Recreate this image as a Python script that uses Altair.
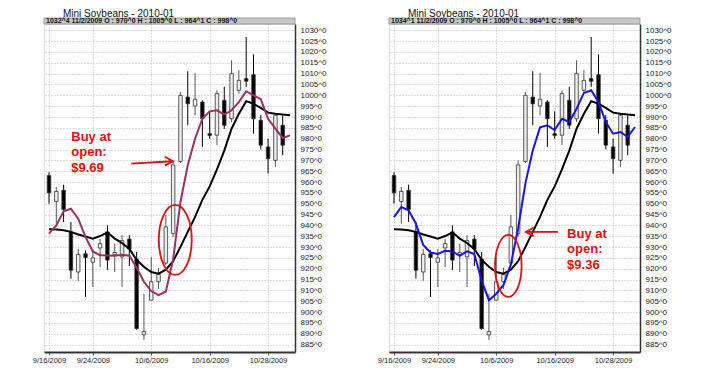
import json
import altair as alt
import pandas as pd

# ---------------- data ----------------
bar_index = list(range(33))
opens = [963.0, 951.0, 956.2, 937.0, 918.5, 926.9, 923.0, 929.6, 937.0, 926.5, 925.5, 933.7, 924.5,
         889.5, 905.5, 914.0, 922.6, 936.2, 969.5, 999.2, 995.1, 996.9, 982.3, 981.6, 997.7, 989.2,
         1002.3, 1007.7, 1009.5, 988.5, 976.2, 970.0, 986.2]
highs = [964.5, 957.7, 958.8, 941.6, 929.2, 928.5, 929.0, 933.7, 940.0, 931.6, 935.6, 935.5, 927.7,
         908.4, 925.4, 920.4, 944.8, 970.0, 1001.5, 1011.1, 1010.4, 997.7, 992.6, 1002.3, 1003.9, 1016.2,
         1011.6, 1026.9, 1018.9, 990.9, 980.0, 991.5, 990.8]
lows = [950.0, 940.8, 941.6, 915.4, 914.4, 907.0, 911.6, 920.8, 919.5, 918.5, 911.6, 921.3, 891.8,
        887.2, 905.5, 910.7, 921.7, 934.7, 968.8, 986.2, 990.8, 976.2, 980.0, 977.1, 984.5, 987.7,
        1000.8, 1003.9, 982.3, 975.0, 963.9, 967.0, 972.4]
closes = [955.0, 955.7, 947.4, 919.3, 926.6, 925.2, 925.0, 931.6, 924.0, 927.5, 933.0, 929.1, 892.4,
          891.0, 914.0, 917.5, 939.3, 967.9, 1000.0, 996.1, 998.2, 989.2, 981.5, 1000.8, 986.2, 1010.0,
          1006.9, 1006.5, 989.2, 977.0, 970.8, 990.8, 977.0]

ma_index = list(range(34))
slow_ma = [938.2, 938.1, 937.8, 937.0, 935.8, 934.9, 933.9, 935.1, 936.8, 933.9, 931.9, 929.1, 924.1,
           920.9, 918.5, 917.7, 919.6, 923.5, 930.1, 937.0, 943.9, 951.8, 958.0, 965.8, 974.5, 984.6,
           991.5, 997.3, 996.1, 994.2, 992.0, 991.5, 991.1, 990.8]
fast_ma_left = [936.2, 940.0, 946.5, 947.7, 943.1, 934.7, 928.0, 926.2, 926.1, 926.0, 926.4, 926.0, 920.5,
                914.0, 909.7, 907.8, 909.5, 924.4, 950.8, 967.8, 980.0, 989.2, 992.6, 993.1, 991.1, 993.1,
                996.9, 1001.9, 1000.0, 998.2, 989.2, 984.6, 980.3, 981.5]
fast_ma_right = [943.8, 948.5, 947.0, 940.8, 931.0, 927.5, 926.8, 928.3, 928.0, 926.0, 928.0, 926.8, 914.5,
                 905.5, 908.5, 912.5, 922.0, 938.7, 959.5, 974.6, 985.2, 986.2, 984.0, 989.2, 987.7, 993.8,
                 1001.1, 1002.3, 996.9, 987.7, 982.3, 983.1, 980.8, 985.4]

date_ticks = [0, 6, 14, 22, 30]
date_labels = ["9/16/2009", "9/24/2009", "10/6/2009", "10/16/2009", "10/28/2009"]
price_ticks = [885, 890, 895, 900, 905, 910, 915, 920, 925, 930, 935, 940, 945, 950, 955, 960, 965, 970,
               975, 980, 985, 990, 995, 1000, 1005, 1010, 1015, 1020, 1025, 1030]

title_text = "Mini Soybeans - 2010-01"
header_left = "1032^4  11/2/2009  O : 970^0  H : 1005^0  L : 964^1  C : 998^0"
header_right = "1034^1  11/2/2009  O : 970^0  H : 1005^0  L : 964^1  C : 998^0"
note_left = "Buy at\nopen:\n$9.69"
note_right = "Buy at\nopen:\n$9.36"

# ---------------- styling ----------------
W, H = 251, 328
FONT = "Liberation Sans"
RED = "#e01010"

xscale = alt.Scale(domain=[0, 33], nice=False, zero=False)
yscale = alt.Scale(domain=[881.6, 1032.9], nice=False, zero=False)
xaxis = alt.Axis(
    values=date_ticks,
    labelExpr=f"{json.dumps(date_labels)}[indexof({json.dumps(date_ticks)}, datum.value)]",
    title=None, grid=True, gridDash=[1, 2], gridColor="#b8b8b8", gridWidth=1,
    domain=True, domainColor="#333333", domainWidth=2,
    ticks=True, tickSize=3, tickColor="#666666",
    labelFont=FONT, labelFontSize=7.5, labelColor="#222222", labelPadding=1,
    labelOverlap=False,
)
yaxis = alt.Axis(
    orient="right", values=price_ticks, labelExpr="datum.value + '^0'",
    title=None, grid=True, gridDash=[1, 2], gridColor="#b8b8b8", gridWidth=1,
    domain=True, domainColor="#333333", domainWidth=1.5,
    ticks=False, labelFont=FONT, labelFontSize=8, labelColor="#222222", labelPadding=5,
    labelOverlap=False,
)

candles = pd.DataFrame({"i": bar_index, "open": opens, "high": highs, "low": lows, "close": closes})
candles["up"] = candles["close"] >= candles["open"]


def X(field):
    return alt.X(field, type="quantitative", scale=xscale, axis=xaxis)


def Y(field):
    return alt.Y(field, type="quantitative", scale=yscale, axis=yaxis)


def panel(fast, fast_color, header, note, ell, arrow, note_pos, head_dir):
    ma = pd.DataFrame({"i": ma_index, "slow": slow_ma, "fast": fast})

    wicks = alt.Chart(candles).mark_rule(clip=True, strokeWidth=1).encode(
        x=X("i"), y=Y("low"), y2="high",
        color=alt.condition("datum.up", alt.value("#555555"), alt.value("#000000")),
    )
    bodies = alt.Chart(candles).mark_bar(clip=True, size=3.5, strokeWidth=0.8, stroke="#333333").encode(
        x=X("i"), y=Y("open"), y2="close",
        fill=alt.condition("datum.up", alt.value("#ececec"), alt.value("#000000")),
    )
    slow_line = alt.Chart(ma).mark_line(clip=True, color="#000000", strokeWidth=2).encode(
        x=X("i"), y=Y("slow"))
    fast_line = alt.Chart(ma).mark_line(clip=True, color=fast_color, strokeWidth=2).encode(
        x=X("i"), y=Y("fast"))

    one = pd.DataFrame({"k": [0]})
    header_bar = alt.Chart(one).mark_rect(fill="#c9c9c9", stroke="#8a8a8a", strokeWidth=0.8).encode(
        x=alt.value(0), x2=alt.value(W), y=alt.value(-6), y2=alt.value(0))
    header_txt = alt.Chart(one).mark_text(
        align="left", baseline="middle", font=FONT, fontSize=7, fontWeight="bold", color="#111111"
    ).encode(x=alt.value(2), y=alt.value(-2.9), text=alt.value(header))
    title = alt.Chart(one).mark_text(
        align="left", baseline="alphabetic", font=FONT, fontSize=10, color="#111111"
    ).encode(x=alt.value(19), y=alt.value(-7.5), text=alt.value(title_text))

    # annotations in data coordinates
    ell_df = pd.DataFrame({"i": [ell[0]], "v": [ell[1]]})
    rx_ratio = ell[2] / ell[3]
    ell_path = (f"M 0 -1 A {rx_ratio:.3f} 1 0 1 1 0 1 A {rx_ratio:.3f} 1 0 1 1 0 -1 Z")
    ellipse = alt.Chart(ell_df).mark_point(
        shape=ell_path, size=(2 * ell[3]) ** 2, filled=False, stroke=RED, strokeWidth=1.8, opacity=1
    ).encode(x=X("i"), y=Y("v"))

    arr_df = pd.DataFrame({"i": [arrow[0]], "i2": [arrow[1]], "v": [arrow[2]], "v2": [arrow[3]]})
    shaft = alt.Chart(arr_df).mark_rule(color=RED, strokeWidth=1.8).encode(
        x=X("i"), x2="i2", y=Y("v"), y2="v2")
    tip_df = pd.DataFrame({"i": [arrow[4]], "v": [arrow[5]]})
    head_path = "M -1 -0.55 L 0 0 L -1 0.55" if head_dir == "right" else "M 1 -0.55 L 0 0 L 1 0.55"
    head = alt.Chart(tip_df).mark_point(
        shape=head_path, size=256, filled=False, stroke=RED, strokeWidth=1.8, opacity=1
    ).encode(x=X("i"), y=Y("v"))

    note_df = pd.DataFrame({"i": [note_pos[0]], "v": [note_pos[1]], "t": [note]})
    note_txt = alt.Chart(note_df).mark_text(
        align="left", baseline="middle", lineBreak="\n", lineHeight=15.5,
        font=FONT, fontSize=13, fontWeight="bold", color=RED
    ).encode(x=X("i"), y=Y("v"), text="t:N")

    return alt.layer(
        wicks, bodies, slow_line, fast_line, ellipse, shaft, head, note_txt,
        title, header_bar, header_txt,
    ).properties(width=W, height=H)


left = panel(
    fast_ma_left, "#9b2f63", header_left, note_left,
    ell=(17.29, 933.3, 16.5, 35),
    arrow=(11.27, 16.9, 968.5, 969.6, 16.96, 969.6),
    note_pos=(3.05, 980.8), head_dir="right",
)
right = panel(
    fast_ma_right, "#1414e6", header_right, note_right,
    ell=(15.65, 921.3, 13.3, 31),
    arrow=(18.1, 22.44, 937.0, 937.0, 18.05, 937.0),
    note_pos=(23.7, 936.2), head_dir="left",
)

chart = alt.hconcat(left, right, spacing=94, bounds="flush").properties(
    padding={"left": 23, "top": 0, "right": 0, "bottom": 0}
).configure_view(stroke="#333333", strokeWidth=1.5, fill="white").configure(background="white")

chart.save("out.html", embed_options={"renderer": "svg", "actions": False})
